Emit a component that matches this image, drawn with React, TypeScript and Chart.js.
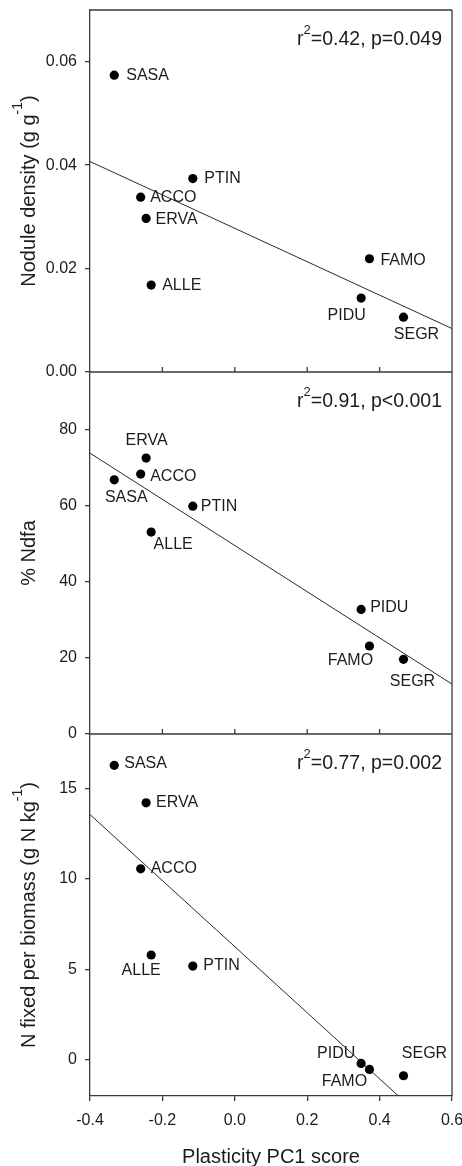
import React, { useEffect, useRef } from 'react';
import { Chart, registerables } from 'chart.js';

Chart.register(...registerables);

// ---------------- data ----------------
const SPECIES = ['SASA', 'ACCO', 'ERVA', 'ALLE', 'PTIN', 'PIDU', 'FAMO', 'SEGR'];
const PC1 = [-0.333, -0.26, -0.245, -0.231, -0.116, 0.349, 0.372, 0.466];
const NODULE_DENSITY = [0.0574, 0.0338, 0.0297, 0.0168, 0.0374, 0.0143, 0.0219, 0.0106];
const NDFA = [66.7, 68.2, 72.4, 53.0, 59.8, 32.7, 23.1, 19.6];
const N_FIXED = [16.27, 10.55, 14.2, 5.79, 5.18, -0.2, -0.53, -0.88];

const FIT_X = [-0.4, 0.6];
const FIT_NODULE = [0.0407, 0.0084];
const FIT_NDFA = [73.7, 13.1];
const FIT_NFIXED = [13.55, -4.7];

const X_TICKS = [-0.4, -0.2, 0.0, 0.2, 0.4, 0.6];
const Y_TICKS_NODULE = [0, 0.02, 0.04, 0.06];
const Y_TICKS_NDFA = [0, 20, 40, 60, 80];
const Y_TICKS_NFIXED = [0, 5, 10, 15];

const R2_VALUES = ['0.42', '0.91', '0.77'];
const P_TEXTS = ['p=0.049', 'p<0.001', 'p=0.002'];

const X_TITLE = 'Plasticity PC1 score';

// ---------------- styles / layout ----------------
const FONT = '"Liberation Sans", Arial, Helvetica, sans-serif';
const TEXT = '#1c1c1c';
const FRAME = '#3a3a3a';
const FIT_COLOR = '#2a2a2a';

type Lbl = [number, number, 'left' | 'center'];
const LABEL_POS_A: Record<string, Lbl> = {
  SASA: [12, 0, 'left'], ACCO: [9.5, 0, 'left'], ERVA: [9.5, 1.5, 'left'], ALLE: [11, 0.5, 'left'],
  PTIN: [11.5, 0, 'left'], PIDU: [-14.5, 18, 'center'], FAMO: [11, 2, 'left'], SEGR: [13, 17, 'center'],
};
const LABEL_POS_B: Record<string, Lbl> = {
  SASA: [12, 18, 'center'], ACCO: [9.5, 2.5, 'left'], ERVA: [0.5, -18, 'center'], ALLE: [22, 13, 'center'],
  PTIN: [8, 0, 'left'], PIDU: [9, -2, 'left'], FAMO: [-19, 15, 'center'], SEGR: [9, 22, 'center'],
};
const LABEL_POS_C: Record<string, Lbl> = {
  SASA: [10, -2, 'left'], ACCO: [10, 0, 'left'], ERVA: [10, 0, 'left'], ALLE: [-10, 16, 'center'],
  PTIN: [10.5, 0, 'left'], PIDU: [-25, -10, 'center'], FAMO: [-25, 12, 'center'], SEGR: [21, -22, 'center'],
};

type Part = [string, boolean];
const PANELS = [
  {
    id: 'yA', values: NODULE_DENSITY, fit: FIT_NODULE, ticks: Y_TICKS_NODULE, min: 0, max: 0.07, dec: 2, weight: 3,
    title: [['Nodule density (g g', false], ['-1', true], [')', false]] as Part[], labels: LABEL_POS_A,
  },
  {
    id: 'yB', values: NDFA, fit: FIT_NDFA, ticks: Y_TICKS_NDFA, min: 0, max: 95, dec: 0, weight: 2,
    title: [['% Ndfa', false]] as Part[], labels: LABEL_POS_B,
  },
  {
    id: 'yC', values: N_FIXED, fit: FIT_NFIXED, ticks: Y_TICKS_NFIXED, min: -2, max: 18, dec: 0, weight: 1,
    title: [['N fixed per biomass (g N kg', false], ['-1', true], [')', false]] as Part[], labels: LABEL_POS_C,
  },
];

function drawRich(ctx: CanvasRenderingContext2D, parts: Part[], x: number, y: number,
  align: 'left' | 'center' | 'right', size: number, supSize: number, rise: number) {
  const widths = parts.map(([t, sup]) => {
    ctx.font = `${sup ? supSize : size}px ${FONT}`;
    return ctx.measureText(t).width;
  });
  const total = widths.reduce((a, b) => a + b, 0);
  let cx = align === 'center' ? x - total / 2 : align === 'right' ? x - total : x;
  ctx.textAlign = 'left';
  ctx.textBaseline = 'alphabetic';
  parts.forEach(([t, sup], i) => {
    ctx.font = `${sup ? supSize : size}px ${FONT}`;
    ctx.fillText(t, cx, sup ? y - rise : y);
    cx += widths[i];
  });
}

const decorPlugin = {
  id: 'decor',
  afterDraw(chart: any) {
    const { ctx, chartArea: a, scales } = chart;
    const xs = scales.x;
    ctx.save();
    // frame
    ctx.strokeStyle = FRAME;
    ctx.lineWidth = 1.3;
    ctx.beginPath();
    ctx.moveTo(a.left, a.top);
    ctx.lineTo(a.right, a.top);
    ctx.moveTo(a.right, a.top);
    ctx.lineTo(a.right, a.bottom);
    ['yA', 'yB'].forEach((id) => {
      const s = scales[id];
      ctx.moveTo(a.left, s.bottom);
      ctx.lineTo(a.right, s.bottom);
      X_TICKS.slice(1, -1).forEach((v) => {
        const px = xs.getPixelForValue(v);
        ctx.moveTo(px, s.bottom);
        ctx.lineTo(px, s.bottom - 5);
      });
    });
    ctx.stroke();

    ctx.fillStyle = TEXT;
    PANELS.forEach((p, pi) => {
      const s = scales[p.id];
      // point labels
      const meta = chart.getDatasetMeta(pi);
      ctx.font = `16px ${FONT}`;
      ctx.textBaseline = 'middle';
      SPECIES.forEach((name, i) => {
        const el = meta.data[i];
        const [dx, dy, al] = p.labels[name];
        ctx.textAlign = al;
        ctx.fillText(name, el.x + dx, el.y + dy);
      });
      // stats
      drawRich(ctx, [['r', false], ['2', true], [`=${R2_VALUES[pi]}, ${P_TEXTS[pi]}`, false]],
        a.right - 10, s.top + 35, 'right', 19.5, 13, 11.5);
      // y title
      ctx.save();
      ctx.translate(35, (s.top + s.bottom) / 2);
      ctx.rotate(-Math.PI / 2);
      drawRich(ctx, p.title, 0, 0, 'center', 20, 14, 13);
      ctx.restore();
    });
    // x title
    drawRich(ctx, [[X_TITLE, false]], (a.left + a.right) / 2, 1163, 'center', 20, 14, 14);
    ctx.restore();
  },
};

export default function App() {
  const ref = useRef<HTMLCanvasElement>(null);
  useEffect(() => {
    const datasets: any[] = [];
    PANELS.forEach((p) => {
      datasets.push({
        type: 'scatter',
        data: PC1.map((x, i) => ({ x, y: p.values[i] })),
        xAxisID: 'x',
        yAxisID: p.id,
        pointRadius: 4.6,
        pointBackgroundColor: '#000',
        pointBorderWidth: 0,
        backgroundColor: '#000',
        showLine: false,
      });
    });
    PANELS.forEach((p) => {
      datasets.push({
        type: 'scatter',
        data: FIT_X.map((x, i) => ({ x, y: p.fit[i] })),
        xAxisID: 'x',
        yAxisID: p.id,
        showLine: true,
        borderColor: FIT_COLOR,
        borderWidth: 1,
        pointRadius: 0,
        fill: false,
      });
    });

    const scales: any = {
      x: {
        type: 'linear',
        position: 'bottom',
        min: -0.4,
        max: 0.6,
        afterBuildTicks: (s: any) => { s.ticks = X_TICKS.map((v) => ({ value: v })); },
        afterFit: (s: any) => { s.height = 70; s.paddingLeft = 0; s.paddingRight = 0; },
        border: { display: true, color: FRAME, width: 1.3 },
        grid: { display: true, drawOnChartArea: false, drawTicks: true, tickLength: 5, color: FRAME, lineWidth: 1.3 },
        ticks: {
          padding: 10,
          color: TEXT,
          font: { family: FONT, size: 16 },
          maxRotation: 0,
          autoSkip: false,
          callback: (v: any) => Number(v).toFixed(1),
        },
        title: { display: false },
      },
    };
    PANELS.forEach((p) => {
      scales[p.id] = {
        type: 'linear',
        position: 'left',
        stack: 'panels',
        stackWeight: 1,
        weight: p.weight,
        min: p.min,
        max: p.max,
        afterBuildTicks: (s: any) => { s.ticks = p.ticks.map((v) => ({ value: v })); },
        afterFit: (s: any) => { s.width = 90; s.paddingTop = 0; s.paddingBottom = 0; },
        border: { display: true, color: FRAME, width: 1.3 },
        grid: { display: true, drawOnChartArea: false, drawTicks: true, tickLength: 5, color: FRAME, lineWidth: 1.3 },
        ticks: {
          padding: 8,
          color: TEXT,
          font: { family: FONT, size: 16 },
          autoSkip: false,
          callback: (v: any) => Number(v).toFixed(p.dec),
        },
        title: { display: false },
      };
    });

    const chart = new Chart(ref.current as HTMLCanvasElement, {
      type: 'scatter',
      data: { datasets },
      options: {
        animation: false,
        responsive: false,
        devicePixelRatio: 1,
        layout: { padding: { top: 10, right: 10, left: 0, bottom: 0 } },
        plugins: { legend: { display: false }, tooltip: { enabled: false } },
        scales,
      },
      plugins: [decorPlugin],
    } as any);
    return () => chart.destroy();
  }, []);

  return (
    <div style={{ position: 'absolute', left: 0, top: 0, width: 462, height: 1166, background: '#fff' }}>
      <canvas ref={ref} width={462} height={1166} style={{ display: 'block', width: 462, height: 1166 }} />
    </div>
  );
}
